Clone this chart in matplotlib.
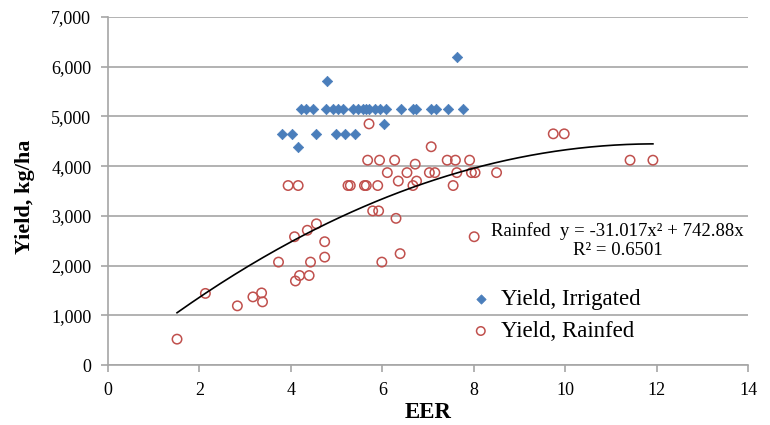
import numpy as np
import matplotlib
matplotlib.use("Agg")
import matplotlib.pyplot as plt
from matplotlib.ticker import FuncFormatter

plt.rcParams['font.family'] = ['Liberation Serif', 'DejaVu Serif']

# Irrigated yields
irr_x = [4.23, 4.34, 4.48, 4.77, 4.92, 5.03, 5.14, 5.36, 5.47, 5.57, 5.65, 5.72,
         5.83, 5.94, 6.08, 6.41, 6.67, 6.74, 7.07, 7.18, 7.43, 7.76,
         4.79, 7.63,
         3.81, 4.03, 4.56, 4.98, 5.19, 5.41,
         4.15, 6.03]
irr_y = [5150] * 22 + [5720, 6190] + [4650] * 6 + [4390, 4840]

# Rainfed yields
rain_x = [5.71,
          5.68, 5.94, 6.27, 7.42, 7.60, 7.91, 11.42, 11.92,
          6.72, 7.07,
          6.11, 6.54, 7.03, 7.15, 7.63, 7.95, 8.03, 8.50,
          6.35, 6.75,
          6.67, 7.55, 3.94, 4.16, 5.25, 5.30, 5.61, 5.65, 5.90,
          9.74, 9.98,
          1.51, 2.13, 2.83, 3.17, 3.36, 3.38, 3.73, 4.08, 4.10, 4.19, 4.36,
          4.40, 4.43, 4.56, 4.74, 4.74, 5.79, 5.92, 6.30, 5.99, 6.39, 8.01]
rain_y = [4850,
          4120, 4120, 4120, 4120, 4120, 4120, 4120, 4120,
          4040, 4390,
          3870, 3870, 3870, 3870, 3870, 3870, 3870, 3870,
          3700, 3700,
          3610, 3610, 3610, 3610, 3610, 3610, 3610, 3610, 3610,
          4650, 4650,
          520, 1440, 1190, 1370, 1450, 1270, 2070, 2580, 1690, 1800, 2710,
          1800, 2070, 2840, 2480, 2170, 3100, 3100, 2950, 2070, 2240, 2580]

# Trendline coefficients (Rainfed)
a2, a1 = -31.017, 742.88

fig = plt.figure(figsize=(7.7, 4.25), dpi=100)
ax = fig.add_axes([108/770, 60/425, 640/770, 348/425])

grid_c = '#A6A6A6'
ax.set_xlim(0, 14)
ax.set_ylim(0, 7000)
ax.set_xticks(np.arange(0, 15, 2))
ax.set_yticks(np.arange(0, 7001, 1000))
ax.yaxis.set_major_formatter(FuncFormatter(lambda v, p: f"{int(v):,}"))
ax.grid(axis='y', color=grid_c, linewidth=1.2)
ax.set_axisbelow(True)
for s in ['top', 'right']:
    ax.spines[s].set_visible(False)
for s in ['left', 'bottom']:
    ax.spines[s].set_color(grid_c)
    ax.spines[s].set_linewidth(1.2)
ax.tick_params(axis='both', direction='out', length=5, color=grid_c, width=1.2,
               labelsize=13, pad=7)

ax.scatter(irr_x, irr_y, marker='D', s=28, color='#4A7EBB', edgecolors='#4A7EBB',
           linewidths=0.5, label='Yield, Irrigated', zorder=3)
ax.scatter(rain_x, rain_y, marker='o', s=46, facecolors='none', edgecolors='#C0504D',
           linewidths=1.1, label='Yield, Rainfed', zorder=3)

xs = np.linspace(min(rain_x), max(rain_x), 200)
ax.plot(xs, a2 * xs**2 + a1 * xs, color='black', linewidth=1.2, zorder=4)

ax.text(11.15, 2500, 'Rainfed  y = -31.017x² + 742.88x\nR² = 0.6501',
        ha='center', va='center', fontsize=13.5, linespacing=1.12)

leg = ax.legend(loc='center left', bbox_to_anchor=(0.561, 0.142), frameon=False,
                fontsize=16.5, handletextpad=0.3, labelspacing=0.47,
                markerscale=0.9, borderaxespad=0, borderpad=0, handlelength=1.2)

fig.text(25/770, 1 - 197/425, 'Yield, kg/ha', rotation=90, ha='center', va='center',
         fontsize=16, fontweight='bold')
fig.text(428/770, 1 - 412/425, 'EER', ha='center', va='center',
         fontsize=16.5, fontweight='bold')

fig.savefig('out.png', dpi=100)
